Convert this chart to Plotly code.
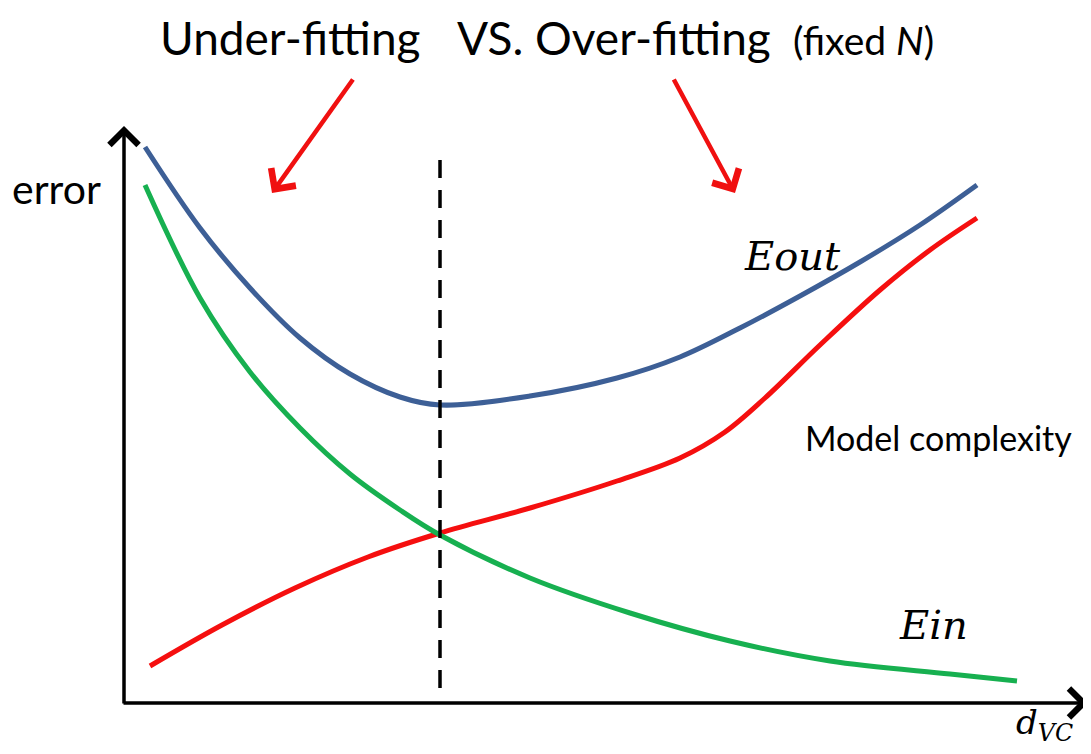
import plotly.graph_objects as go

# Curve data (x = model complexity position, y = error position, in canvas units; y grows downward)
eout_x = [145, 200, 250, 300, 350, 400, 440, 530, 617, 680, 740, 800, 860, 920, 977]
eout_y = [147, 228, 288, 338, 374, 397, 405, 396, 378, 357, 328, 296, 262, 225, 185]

ein_x = [145, 200, 250, 300, 350, 400, 440, 530, 630, 730, 830, 950, 1017]
ein_y = [185, 298, 372, 428, 474, 510, 535, 578, 613, 641, 661, 674, 681]

red_x = [150, 222, 295, 368, 440, 530, 617, 680, 725, 765, 820, 880, 930, 977]
red_y = [666, 625, 588, 557, 533, 508, 481, 458, 432, 398, 345, 290, 250, 218]

optimum_x = [440, 440]
optimum_y = [160, 695]

W, H = 1091, 754
OFF = 8  # page body margin of the browser
fig = go.Figure()

fig.add_trace(go.Scatter(x=eout_x, y=eout_y, mode="lines", line=dict(color="#3d5f96", width=5, shape="spline", smoothing=1.0), hoverinfo="skip"))
fig.add_trace(go.Scatter(x=red_x, y=red_y, mode="lines", line=dict(color="#f50f0f", width=5, shape="spline", smoothing=1.0), hoverinfo="skip"))
fig.add_trace(go.Scatter(x=ein_x, y=ein_y, mode="lines", line=dict(color="#17b050", width=5, shape="spline", smoothing=1.0), hoverinfo="skip"))
fig.add_trace(go.Scatter(x=optimum_x, y=optimum_y, mode="lines", line=dict(color="black", width=3.5, dash="18px,12px"), hoverinfo="skip"))

ann = []
# axes with arrowheads
ann.append(dict(x=124, y=126, ax=124, ay=705, xref="x", yref="y", axref="x", ayref="y",
                showarrow=True, arrowhead=4, arrowsize=1.6, arrowwidth=3.5, arrowcolor="black", text=""))
ann.append(dict(x=1088, y=703, ax=122, ay=703, xref="x", yref="y", axref="x", ayref="y",
                showarrow=True, arrowhead=4, arrowsize=1.6, arrowwidth=3.5, arrowcolor="black", text=""))
# red arrows
ann.append(dict(x=272, y=193, ax=354, ay=78, xref="x", yref="y", axref="x", ayref="y",
                showarrow=True, arrowhead=4, arrowsize=1.3, arrowwidth=4.5, arrowcolor="#f01010", text=""))
ann.append(dict(x=735, y=193, ax=673, ay=78, xref="x", yref="y", axref="x", ayref="y",
                showarrow=True, arrowhead=4, arrowsize=1.3, arrowwidth=4.5, arrowcolor="#f01010", text=""))

title_font = dict(family="Lato", size=46, color="black")
ann.append(dict(x=290, y=37, xref="x", yref="y", text="Under-fitting", showarrow=False, font=title_font))
ann.append(dict(x=614, y=37, xref="x", yref="y", text="VS. Over-fitting", showarrow=False, font=title_font))
ann.append(dict(x=863, y=40, xref="x", yref="y", text="(fixed <i>N</i>)", showarrow=False,
                font=dict(family="Lato", size=39, color="black")))

ann.append(dict(x=56, y=188, xref="x", yref="y", text="error", showarrow=False,
                font=dict(family="Lato", size=41, color="black")))
ann.append(dict(x=938, y=437, xref="x", yref="y", text="Model complexity", showarrow=False,
                font=dict(family="Lato", size=34, color="black")))
math_font = dict(family="DejaVu Serif", size=40, color="black")
ann.append(dict(x=792, y=256, xref="x", yref="y", text="<i>Eout</i>", showarrow=False, font=math_font))
ann.append(dict(x=933, y=625, xref="x", yref="y", text="<i>Ein</i>", showarrow=False, font=math_font))
ann.append(dict(x=1044, y=724, xref="x", yref="y", text="<i>d<sub>VC</sub></i>", showarrow=False,
                font=dict(family="DejaVu Serif", size=34, color="black")))

fig.update_layout(
    width=W - 2 * OFF, height=H - 2 * OFF, margin=dict(l=0, r=0, t=0, b=0),
    paper_bgcolor="white", plot_bgcolor="white", showlegend=False,
    xaxis=dict(range=[OFF, W - OFF], visible=False, fixedrange=True),
    yaxis=dict(range=[H - OFF, OFF], visible=False, fixedrange=True),
    annotations=ann,
)
fig.write_html("out.html")
